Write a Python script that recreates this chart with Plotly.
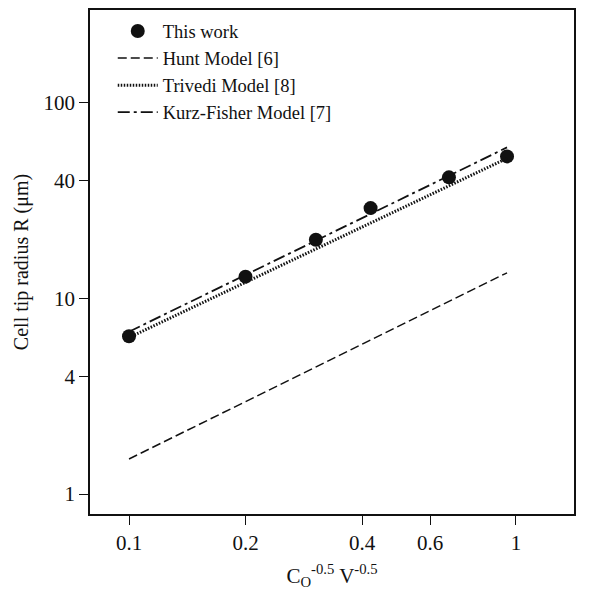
import plotly.graph_objects as go

# Measured data (This work)
work_x = [0.1, 0.2, 0.304, 0.421, 0.671, 0.948]
work_r = [6.4, 12.9, 19.9, 28.9, 41.5, 53.1]

# Model lines (endpoints)
model_x = [0.1, 0.948]
hunt_r = [1.51, 13.5]
trivedi_r = [6.3, 51.9]
kurz_r = [6.75, 59.0]

x_ticks = [0.1, 0.2, 0.4, 0.6, 1]
x_tick_text = ["0.1", "0.2", "0.4", "0.6", "1"]
y_ticks = [1, 4, 10, 40, 100]
y_tick_text = ["1", "4", "10", "40", "100"]

FONT = "Liberation Serif, Times New Roman, serif"

fig = go.Figure()
fig.add_trace(go.Scatter(x=work_x, y=work_r, mode="markers", name="This work",
                         marker=dict(color="#111111", size=14)))
fig.add_trace(go.Scatter(x=model_x, y=hunt_r, mode="lines", name="Hunt Model [6]",
                         line=dict(color="#111111", width=1.5, dash="9px,4px")))
fig.add_trace(go.Scatter(x=model_x, y=trivedi_r, mode="lines", name="Trivedi Model [8]",
                         line=dict(color="#111111", width=3, dash="1.5px,1.5px")))
fig.add_trace(go.Scatter(x=model_x, y=kurz_r, mode="lines", name="Kurz-Fisher Model [7]",
                         line=dict(color="#111111", width=1.8, dash="12px,4px,3px,4px")))

fig.update_layout(
    width=591, height=597,
    margin=dict(l=90, r=17, t=8, b=83),
    paper_bgcolor="white", plot_bgcolor="white",
    font=dict(family=FONT, size=21, color="#111111"),
    showlegend=True,
    legend=dict(x=0.047, y=0.995, xanchor="left", yanchor="top",
                bgcolor="rgba(0,0,0,0)", font=dict(size=18.5, family=FONT),
                itemwidth=40, tracegroupgap=0),
    xaxis=dict(type="log", range=[-1.1008, 0.1499],
               tickvals=x_ticks, ticktext=x_tick_text,
               ticks="outside", ticklen=9, tickwidth=1, tickcolor="#111111",
               tickfont=dict(size=21, family=FONT),
               showline=True, linecolor="#111111", linewidth=1.5, mirror=True,
               showgrid=False, zeroline=False,
               title=dict(text="C<sub>O</sub><sup>-0.5</sup> V<sup>-0.5</sup>",
                          font=dict(size=21, family=FONT), standoff=14)),
    yaxis=dict(type="log", range=[-0.102, 2.473],
               tickvals=y_ticks, ticktext=y_tick_text,
               ticks="outside", ticklen=9, tickwidth=1, tickcolor="#111111",
               tickfont=dict(size=21, family=FONT),
               showline=True, linecolor="#111111", linewidth=1.5, mirror=True,
               showgrid=False, zeroline=False,
               title=dict(text="Cell tip radius R (μm)",
                          font=dict(size=20, family=FONT), standoff=10)),
)

fig.write_html("out.html")
